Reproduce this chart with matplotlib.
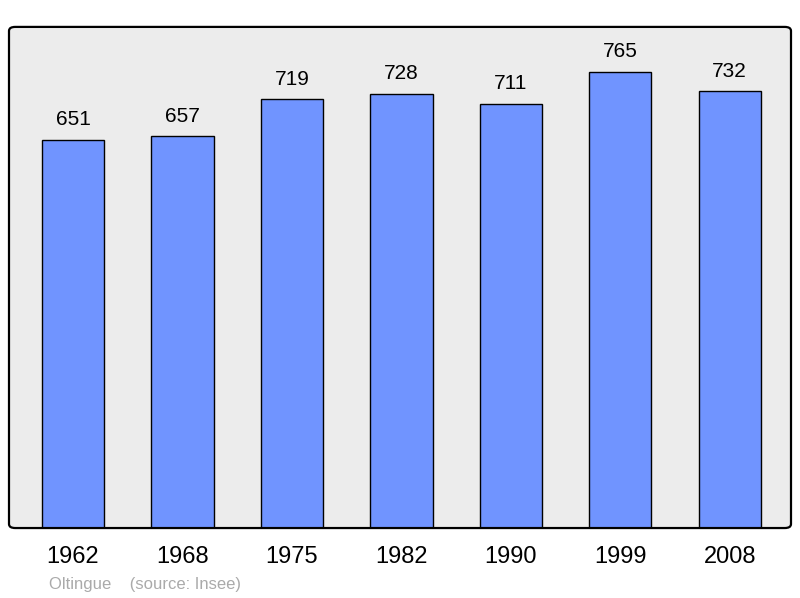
import matplotlib.pyplot as plt
from matplotlib.patches import FancyBboxPatch

plt.rcParams['font.family'] = ['Liberation Sans', 'DejaVu Sans']

years = ['1962', '1968', '1975', '1982', '1990', '1999', '2008']
population = [651, 657, 719, 728, 711, 765, 732]
source_text = 'Oltingue    (source: Insee)'

fig = plt.figure(figsize=(8, 5.98), dpi=100)
ax = fig.add_axes([0.01125, 0.117, 0.9775, 0.838])
ax.set_facecolor('#ececec')

pos = list(range(len(years)))
ax.bar(pos, population, width=0.57, color='#7094ff', edgecolor='black', linewidth=1.0)

for x, v in zip(pos, population):
    ax.annotate(str(v), (x, v), xytext=(0, 20), textcoords='offset pixels',
                ha='center', va='center', fontsize=15)

ax.set_xlim(-0.585, 6.56)
ax.set_ylim(0, 840)
ax.set_xticks(pos, years, fontsize=17)
ax.tick_params(axis='x', length=0, pad=13)
ax.set_yticks([])
for s in ax.spines.values():
    s.set_visible(False)

frame = FancyBboxPatch((0, 0), 1, 1, boxstyle='round,pad=0,rounding_size=0.008',
                       transform=ax.transAxes, facecolor='none', edgecolor='black',
                       linewidth=1.6, clip_on=False, zorder=5)
ax.add_patch(frame)

fig.text(49 / 800, 1 - 585 / 598, source_text, color='#aaaaaa', fontsize=12,
         ha='left', va='center')

fig.savefig('out.png', dpi=100)
